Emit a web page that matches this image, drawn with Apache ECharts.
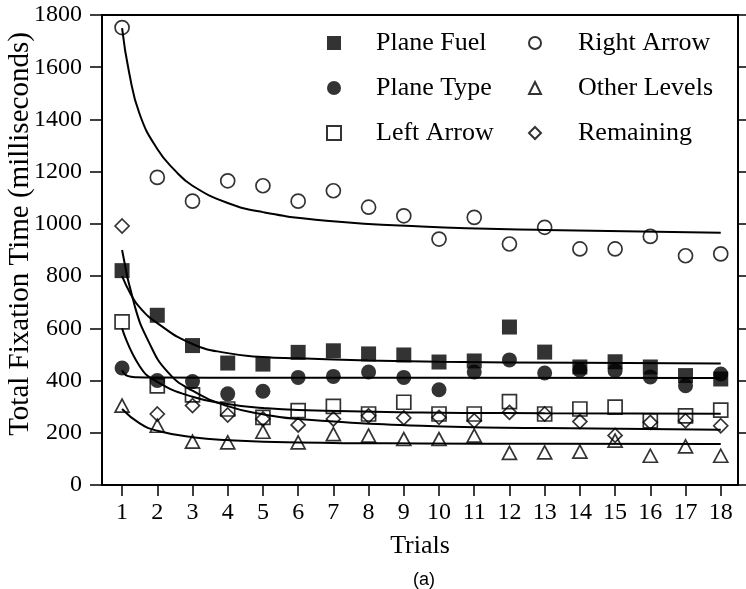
<!DOCTYPE html>
<html>
<head>
<meta charset="utf-8">
<script src="https://cdn.jsdelivr.net/npm/echarts@6/dist/echarts.min.js"></script>
<style>
  html, body { margin: 0; padding: 0; background: #fff; }
  #chart { width: 746px; height: 589px; }
</style>
</head>
<body>
<div id="chart"></div>
<script>
// Trial numbers (x tick labels)
const trials = [1, 2, 3, 4, 5, 6, 7, 8, 9, 10, 11, 12, 13, 14, 15, 16, 17, 18];

// Mean total fixation time per trial (ms)
const planeFuel   = [821, 650, 534, 467, 463, 508, 514, 502, 498, 471, 475, 605, 509, 452, 472, 452, 419, 406];
const planeType   = [448, 400, 396, 349, 359, 412, 416, 433, 412, 365, 433, 479, 429, 440, 438, 414, 380, 425];
const leftArrow   = [625, 380, 345, 291, 259, 285, 301, 272, 317, 272, 272, 319, 272, 291, 298, 246, 265, 287];
const rightArrow  = [1752, 1178, 1087, 1165, 1146, 1087, 1127, 1064, 1031, 942, 1025, 923, 987, 904, 904, 952, 878, 885];
const otherLevels = [304, 227, 166, 163, 204, 163, 195, 189, 176, 176, 189, 123, 125, 128, 170, 112, 148, 112];
const remaining   = [992, 272, 304, 268, 253, 230, 253, 265, 257, 259, 246, 278, 272, 243, 190, 240, 246, 227];

// Fitted learning curves, sampled as [trial, ms]
const planeFuelFit   = [[1, 800], [1.25, 730], [1.5, 680], [2, 620], [3, 540], [4, 505], [5, 490], [6, 485], [8, 477], [10, 472], [14, 468], [18, 465]];
const planeTypeFit   = [[1, 440], [1.15, 418], [1.4, 413], [2, 412], [5, 411], [10, 411], [18, 410]];
const leftArrowFit   = [[1, 600], [1.5, 455], [2, 395], [3, 338], [4, 310], [5, 295], [6, 287], [9.5, 278], [13, 275], [18, 273]];
const rightArrowFit  = [[1, 1750], [1.2, 1580], [1.5, 1420], [2, 1287], [2.5, 1205], [3, 1146], [4, 1080], [5, 1045], [6.8, 1012], [9.5, 990], [13, 977], [18, 966]];
const otherLevelsFit = [[1, 291], [1.5, 236], [2, 208], [3, 183], [4, 172], [6, 163], [9.5, 159], [13, 158], [18, 157]];
const remainingFit   = [[1, 900], [1.35, 690], [1.75, 550], [2.3, 432], [3, 361], [4, 302], [5, 271], [6, 253], [9.5, 227], [13, 218], [18, 212]];

const serif = '"Liberation Serif", "Times New Roman", serif';

function points(vals) {
  return vals.map(function (v, i) { return [trials[i], v]; });
}

function markers(name, vals, symbol, size, filled) {
  return {
    name: name,
    type: 'scatter',
    data: points(vals),
    symbol: symbol,
    symbolSize: size,
    z: 5,
    itemStyle: filled
      ? { color: '#000', borderColor: '#000', borderWidth: 0 }
      : { color: 'rgba(255,255,255,0)', borderColor: '#000', borderWidth: 1.7 }
  };
}

function fit(name, data) {
  return {
    name: name,
    type: 'line',
    data: data,
    showSymbol: false,
    smooth: 0.5,
    silent: true,
    z: 3,
    lineStyle: { color: '#000', width: 2 }
  };
}

const legendText = function (pad) {
  return { fontFamily: serif, fontSize: 26, color: '#000', lineHeight: 26, padding: [0, 0, 0, pad] };
};

const chart = echarts.init(document.getElementById('chart'), null, { renderer: 'canvas' });

chart.setOption({
  animation: false,
  backgroundColor: '#fff',
  grid: {
    left: 102, right: 8, top: 15, bottom: 104,
    containLabel: false,
    outerBoundsMode: 'none',
    show: true, borderColor: '#000', borderWidth: 2, backgroundColor: 'transparent'
  },
  legend: [
    {
      data: ['Plane Fuel', 'Plane Type', 'Left Arrow'],
      orient: 'vertical', left: 326, top: 30, padding: 0,
      itemWidth: 14, itemHeight: 14, itemGap: 19,
      selectedMode: false,
      textStyle: legendText(30)
    },
    {
      data: ['Right Arrow', 'Other Levels', 'Remaining'],
      orient: 'vertical', left: 528, top: 30, padding: 0,
      itemWidth: 12, itemHeight: 12, itemGap: 19,
      selectedMode: false,
      textStyle: legendText(32)
    }
  ],
  xAxis: {
    type: 'value',
    min: 0.43,
    max: 18.49,
    name: 'Trials',
    nameLocation: 'middle',
    nameGap: 48,
    nameTextStyle: { fontFamily: serif, fontSize: 26, color: '#000' },
    axisLine: { show: true, lineStyle: { color: '#000', width: 2 } },
    axisTick: { show: true, inside: false, length: 11, customValues: trials, lineStyle: { color: '#000', width: 1.5 } },
    axisLabel: { customValues: trials, fontFamily: serif, fontSize: 24, color: '#000', margin: 16 },
    splitLine: { show: false }
  },
  yAxis: [
    {
      type: 'value',
      min: 0, max: 1800, interval: 200,
      axisLine: { show: true, lineStyle: { color: '#000', width: 2 } },
      axisTick: { show: true, inside: false, length: 12, lineStyle: { color: '#000', width: 1.5 } },
      axisLabel: {
        fontFamily: serif, fontSize: 24, color: '#000', margin: 20,
        formatter: function (v) { return String(v); }
      },
      splitLine: { show: false }
    },
    {
      type: 'value',
      position: 'right',
      min: 0, max: 1800, interval: 200,
      axisLine: { show: true, lineStyle: { color: '#000', width: 2 } },
      axisTick: { show: true, inside: false, length: 9, lineStyle: { color: '#000', width: 1.5 } },
      axisLabel: { show: false },
      splitLine: { show: false }
    }
  ],
  graphic: [
    {
      type: 'text',
      x: 20, y: 234,
      rotation: Math.PI / 2,
      style: {
        text: 'Total Fixation Time (milliseconds)',
        font: '29px "Liberation Serif", "Times New Roman", serif',
        fill: '#000', align: 'center', verticalAlign: 'middle'
      }
    },
    {
      type: 'text',
      x: 424, y: 580,
      style: { text: '(a)', font: '18px "Liberation Sans", Arial, sans-serif', fill: '#000', align: 'center', verticalAlign: 'middle' }
    }
  ],
  series: [
    fit('Plane Fuel fit', planeFuelFit),
    fit('Plane Type fit', planeTypeFit),
    fit('Left Arrow fit', leftArrowFit),
    fit('Right Arrow fit', rightArrowFit),
    fit('Other Levels fit', otherLevelsFit),
    fit('Remaining fit', remainingFit),
    markers('Plane Fuel', planeFuel, 'rect', 15, true),
    markers('Plane Type', planeType, 'circle', 15, true),
    markers('Left Arrow', leftArrow, 'rect', 14, false),
    markers('Right Arrow', rightArrow, 'circle', 14, false),
    markers('Other Levels', otherLevels, 'triangle', [14, 13], false),
    markers('Remaining', remaining, 'diamond', 14, false)
  ]
});
</script>
</body>
</html>
